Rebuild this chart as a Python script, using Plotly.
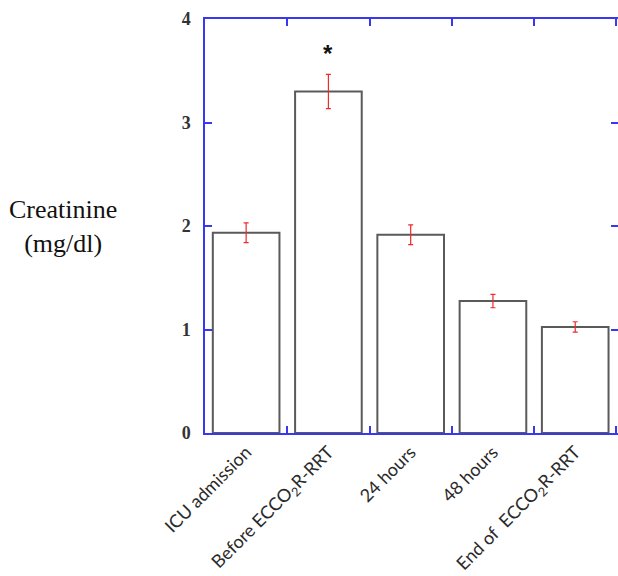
import plotly.graph_objects as go

categories = ["ICU admission", "Before ECCO<sub>2</sub>R-RRT", "24 hours", "48 hours", "End of  ECCO<sub>2</sub>R-RRT"]
creatinine = [1.935, 3.30, 1.915, 1.275, 1.025]
errors = [0.095, 0.165, 0.095, 0.065, 0.05]
y_ticks = [0, 1, 2, 3, 4]
sig_marker_y = 3.67

BLUE = "#3838f0"

fig = go.Figure()
fig.add_trace(go.Bar(
    x=categories, y=creatinine,
    marker=dict(color="white", line=dict(color="#5a5a5a", width=2)),
    error_y=dict(type="data", array=errors, color="#ee2a2a", thickness=1.2, width=2.5),
    width=0.81,
))
# invisible trace for the right-hand ticks
fig.add_trace(go.Scatter(x=categories, y=creatinine, yaxis="y2", mode="markers",
                         marker=dict(opacity=0), hoverinfo="skip", showlegend=False))

fig.update_layout(
    width=618, height=576,
    margin=dict(l=205, r=0, t=19, b=143, autoexpand=False),
    paper_bgcolor="white", plot_bgcolor="white",
    showlegend=False,
    xaxis=dict(
        type="category", range=[-0.5, 4.52],
        tickson="boundaries", ticks="inside", ticklen=7, tickcolor=BLUE, tickwidth=1.5,
        showline=True, linecolor=BLUE, linewidth=1.5, mirror="ticks",
        tickangle=-45, tickfont=dict(family="Lato", size=18, color="#2a2a2a"),
        showgrid=False, zeroline=False, automargin=False,
    ),
    yaxis=dict(
        range=[0, 4], tickvals=y_ticks, ticks="inside", ticklen=7, tickcolor=BLUE, tickwidth=1.5,
        showline=True, linecolor=BLUE, linewidth=1.5,
        tickfont=dict(family="Liberation Serif", size=18, color="#333333", weight="bold"),
        ticklabelstandoff=9,
        showgrid=False, zeroline=False, automargin=False,
    ),
    yaxis2=dict(
        range=[0, 4], tickvals=y_ticks, overlaying="y", side="right",
        ticks="inside", ticklen=7, tickcolor=BLUE, tickwidth=1.5,
        showticklabels=False, showline=False, showgrid=False, zeroline=False,
        automargin=False,
    ),
    annotations=[
        dict(text="Creatinine<br>(mg/dl)", xref="paper", yref="paper",
             x=-0.345, y=0.50, xanchor="center", yanchor="middle", showarrow=False,
             font=dict(family="Liberation Serif", size=26, color="#111111")),
        dict(text="<b>*</b>", x=categories[1], y=sig_marker_y, xref="x", yref="y",
             showarrow=False, font=dict(family="Liberation Sans", size=24, color="#111111")),
    ],
)

fig.write_html("out.html", config={"displayModeBar": False},
               post_script="document.body.style.margin='0';document.body.style.overflow='hidden';")
